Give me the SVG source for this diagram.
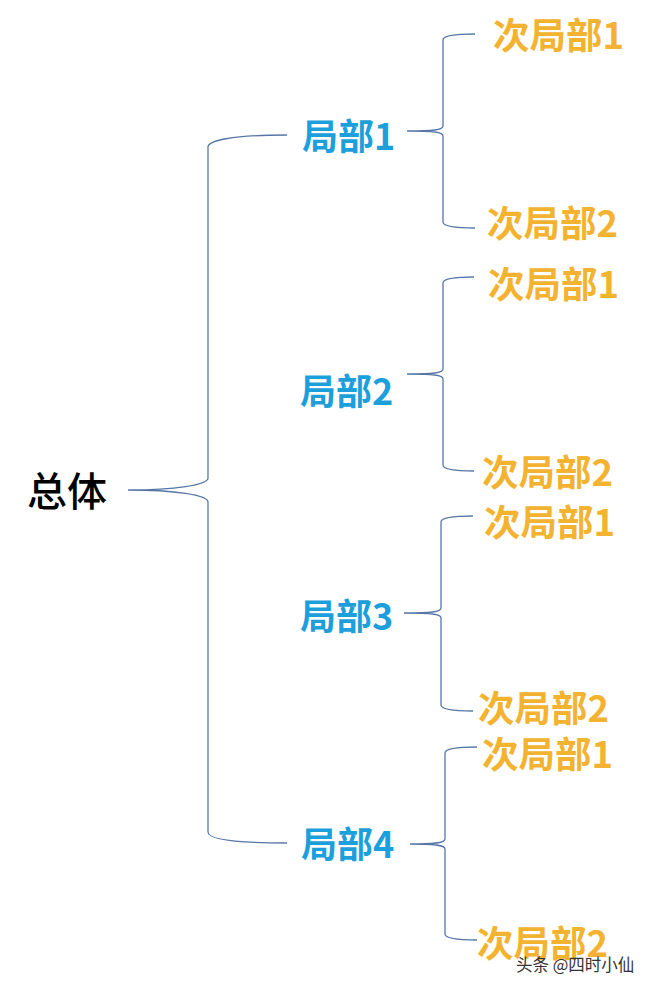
<svg xmlns="http://www.w3.org/2000/svg" width="649" height="987" viewBox="0 0 649 987">
<style>
text{font-family:"Noto Sans CJK SC","Noto Sans",sans-serif;font-weight:bold}
.main{font-size:40px;fill:#000;font-weight:500}
.part{font-size:36px;fill:#1d9fdb}
.sub{font-size:36.5px;fill:#f3b330}
.wm{font-size:16.5px;font-weight:normal;fill:#333}
.br{fill:none;stroke:#5677a6;stroke-width:1.3}
</style>
<rect width="649" height="987" fill="#fff"/>
<g id="connectors">
<path class="br" d="M287,135 C230,135 208,141 208,147 L208,478 C208,485 175,490 128,490 M128,490 C175,490 208,495 208,502 L208,832 C208,839 230,843 287,843"/>
<path class="br" d="M475,34 C453,34 443,36 443,40 L443,126 C443,130 433,131 407,131 M407,131 C433,131 443,132 443,136 L443,222 C443,226 453,228 475,228"/>
<path class="br" d="M474,277 C452,277 443,279 443,283 L443,369 C443,373 433,374 407,374 M407,374 C433,374 443,375 443,379 L443,465 C443,469 452,471 474,471"/>
<path class="br" d="M473,516 C451,516 441,518 441,522 L441,608 C441,612 431,613 404,613 M404,613 C431,613 441,614 441,618 L441,705 C441,709 451,711 473,711"/>
<path class="br" d="M477,747 C455,747 445,749 445,753 L445,839 C445,843 435,844 410,844 M410,844 C435,844 445,845 445,849 L445,934 C445,938 455,940 477,940"/>
</g>
<g id="n-total"><text class="main" x="27" y="506">总体</text></g>
<g id="n-p1"><text class="part" x="302" y="150">局部1</text></g>
<g id="n-p2"><text class="part" x="300" y="405">局部2</text></g>
<g id="n-p3"><text class="part" x="300" y="630">局部3</text></g>
<g id="n-p4"><text class="part" x="301" y="858">局部4</text></g>
<g id="n-p1-s1"><text class="sub" x="493" y="49">次局部1</text></g>
<g id="n-p1-s2"><text class="sub" x="487" y="237">次局部2</text></g>
<g id="n-p2-s1"><text class="sub" x="488" y="298">次局部1</text></g>
<g id="n-p2-s2"><text class="sub" x="482" y="486">次局部2</text></g>
<g id="n-p3-s1"><text class="sub" x="484" y="536">次局部1</text></g>
<g id="n-p3-s2"><text class="sub" x="478" y="722">次局部2</text></g>
<g id="n-p4-s1"><text class="sub" x="482" y="768">次局部1</text></g>
<g id="n-p4-s2"><text class="sub" x="477" y="957">次局部2</text></g>
<text class="wm" x="516" y="971">头条 @四时小仙</text>
</svg>
